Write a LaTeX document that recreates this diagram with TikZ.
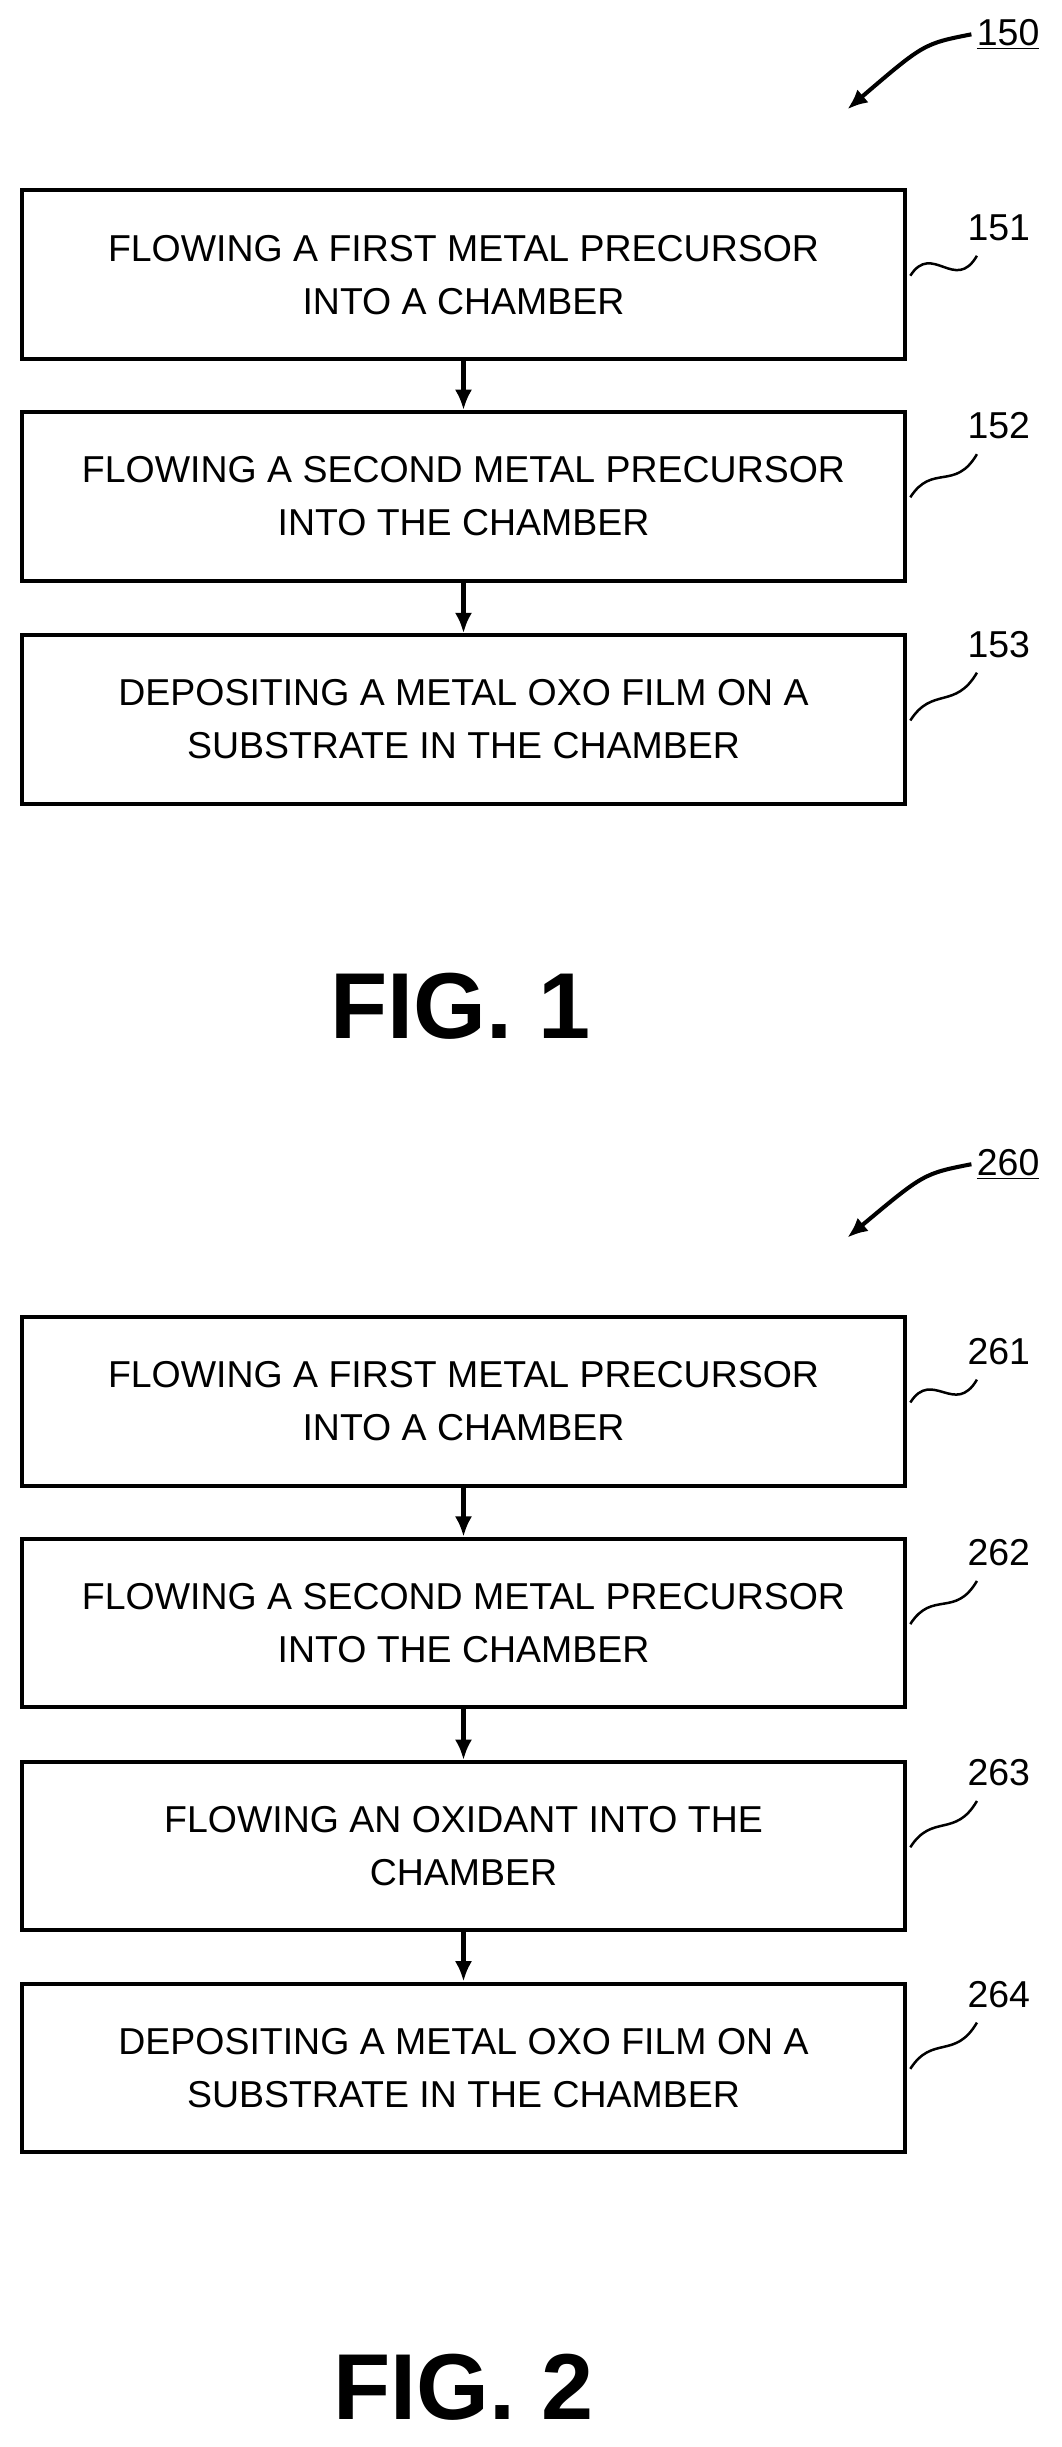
\documentclass[tikz,border=0pt]{standalone}
\usepackage{fontspec}
\setmainfont{Liberation Sans}
\usetikzlibrary{positioning,calc,arrows.meta}

\tikzset{
  stepbox/.style={draw,line width=2.6pt,minimum width=566pt,minimum height=108pt,
    align=center,font=\fontsize{24}{34}\selectfont,inner sep=0pt},
  flow/.style={-{Latex[length=13pt,width=11pt]},line width=2.6pt},
  refnum/.style={font=\fontsize{24}{30}\selectfont},
  squig/.style={line width=1.6pt},
  figlbl/.style={font=\fontsize{60}{66}\selectfont\bfseries}
}

\begin{document}
\begin{tikzpicture}[x=1pt,y=-1pt]
            \useasboundingbox (0,0) rectangle (680,1568);

            % FIG. 1
            \node[stepbox] (s151) at (297,176) {FLOWING A FIRST METAL PRECURSOR\\INTO A CHAMBER};
            \node[stepbox] (s152) at (297,318) {FLOWING A SECOND METAL PRECURSOR\\INTO THE CHAMBER};
            \node[stepbox] (s153) at (297,461) {DEPOSITING A METAL OXO FILM ON A\\SUBSTRATE IN THE CHAMBER};
            \draw[flow] (s151) -- (s152);
            \draw[flow] (s152) -- (s153);

            \node[refnum] (n151) at (640,146) {151};
            \node[refnum] (n152) at (640,273) {152};
            \node[refnum] (n153) at (640,413) {153};
            \foreach \s/\n in {s151/n151,s152/n152,s153/n153}{
              \coordinate (a\n) at ($(\s.north east)+(2,56)$);
              \coordinate (b\n) at ($(\n.south)+(-14,6)$);
              \draw[squig] (a\n) .. controls ($(a\n)+(14,-22)$) and ($(b\n)+(-14,24)$) .. (b\n);
            }

            \node[refnum] (n150) at (646,22) {\underline{150}};
            \coordinate (t150) at (543,70);
            \draw[flow] (n150.west) .. controls (592,28) .. (t150);

            \node[figlbl] (fig1) at (295,645) {FIG. 1};

            % FIG. 2
            \node[stepbox] (s261) at (297,898) {FLOWING A FIRST METAL PRECURSOR\\INTO A CHAMBER};
            \node[stepbox] (s262) at (297,1040) {FLOWING A SECOND METAL PRECURSOR\\INTO THE CHAMBER};
            \node[stepbox] (s263) at (297,1183) {FLOWING AN OXIDANT INTO THE\\CHAMBER};
            \node[stepbox] (s264) at (297,1325) {DEPOSITING A METAL OXO FILM ON A\\SUBSTRATE IN THE CHAMBER};
            \draw[flow] (s261) -- (s262);
            \draw[flow] (s262) -- (s263);
            \draw[flow] (s263) -- (s264);

            \node[refnum] (n261) at (640,866) {261};
            \node[refnum] (n262) at (640,995) {262};
            \node[refnum] (n263) at (640,1136) {263};
            \node[refnum] (n264) at (640,1278) {264};
            \foreach \s/\n in {s261/n261,s262/n262,s263/n263,s264/n264}{
              \coordinate (a\n) at ($(\s.north east)+(2,56)$);
              \coordinate (b\n) at ($(\n.south)+(-14,6)$);
              \draw[squig] (a\n) .. controls ($(a\n)+(14,-22)$) and ($(b\n)+(-14,24)$) .. (b\n);
            }

            \node[refnum] (n260) at (646,746) {\underline{260}};
            \coordinate (t260) at (543,793);
            \draw[flow] (n260.west) .. controls (592,752) .. (t260);

            \node[figlbl] (fig2) at (297,1530) {FIG. 2};
\end{tikzpicture}
\end{document}
